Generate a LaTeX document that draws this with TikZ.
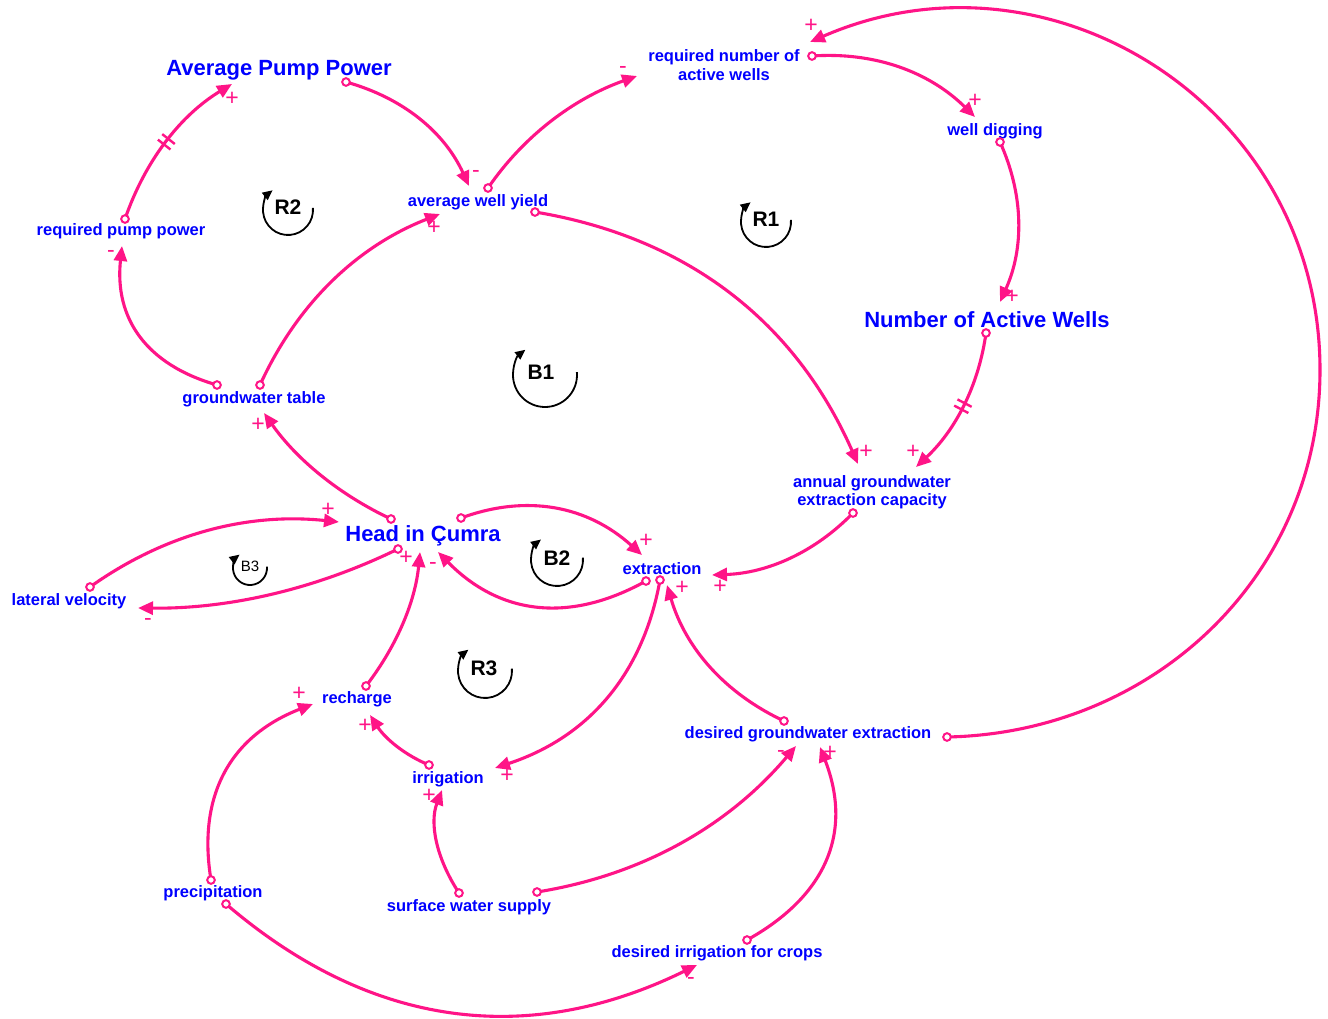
\documentclass[tikz,border=0pt]{standalone}
\usepackage{fontspec}
\setmainfont{Liberation Sans}
\usetikzlibrary{arrows.meta,calc,decorations.markings}
\definecolor{lk}{RGB}{255,20,135}
\definecolor{vb}{RGB}{0,0,255}
\newcommand{\cldlink}[4][]{%
  \draw[link,#1] (#2) .. controls ($1.3333*(#3)-0.3333*(#4)$) and ($1.3333*(#3)-0.3333*(#2)$) .. (#4);
  \draw[tailc] (#2) circle[radius=3.8];}
\newcommand{\cldloop}[6]{% name, label pos, center, radius, label, font
  \node[loopname,#6] (#1) at (#2) {#5};
  \draw[looparc] ($(#3)+(-5:#4)$) arc[start angle=-5,end angle=232,radius=#4];}
\begin{document}
\begin{tikzpicture}[x=1pt,y=-1pt,
  var/.style={text=vb,font=\fontsize{16.5}{18.5}\selectfont\bfseries,inner sep=0pt,text height=12pt,text depth=3.5pt},
  vartwo/.style={text=vb,font=\fontsize{16.5}{18.5}\selectfont\bfseries,inner sep=0pt,align=center},
  bigvar/.style={text=vb,font=\fontsize{22}{24}\selectfont\bfseries,inner sep=0pt,text height=16pt,text depth=4.6pt},
  link/.style={draw=lk,line width=3.1pt,-{Triangle[length=15pt,width=13pt]}},
  tailc/.style={draw=lk,fill=white,line width=2pt},
  pol/.style={text=lk,font=\fontsize{23}{23}\selectfont,inner sep=0pt},
  loopname/.style={font=\fontsize{21}{21}\selectfont\bfseries,inner sep=0pt},
  looparc/.style={draw=black,line width=1.8pt,-{Triangle[length=10pt,width=9pt]}},
  delaymark/.style={postaction={decorate,decoration={markings,mark=at position 0.5 with {\draw[-,draw=lk,line width=2.4pt] (-3.5,-8) -- (-3.5,8) (3.5,-8) -- (3.5,8);}}}}
]
\fill[white] (0,0) rectangle (1328,1019);
\useasboundingbox (0,0) rectangle (1328,1019);

% variables
\node[bigvar] (app) at (279,70) {Average Pump Power};
\node[vartwo] (rnaw) at (724,65) {required number of\\active wells};
\node[var] (wd) at (995,131) {well digging};
\node[var] (rpp) at (121,231) {required pump power};
\node[var] (awy) at (478,202) {average well yield};
\node[bigvar] (naw) at (987,322) {Number of Active Wells};
\node[var] (gwt) at (254,399) {groundwater table};
\node[vartwo] (agec) at (872,492) {annual groundwater\\extraction capacity};
\node[bigvar] (head) at (423,536) {Head in Çumra};
\node[var] (lv) at (69,601) {lateral velocity};
\node[var] (ext) at (662,570) {extraction};
\node[var] (rch) at (357,699) {recharge};
\node[var] (irr) at (448,779) {irrigation};
\node[var] (dge) at (808,734) {desired groundwater extraction};
\node[var] (prc) at (213,893) {precipitation};
\node[var] (sws) at (469,907) {surface water supply};
\node[var] (dic) at (717,953) {desired irrigation for crops};

% connector end points
\coordinate (t1) at (125,219);  \coordinate (h1) at (232,84);
\coordinate (t2) at (346,82);   \coordinate (h2) at (469,186);
\coordinate (t3) at (488,188);  \coordinate (h3) at (637,76);
\coordinate (t4) at (812,56);   \coordinate (h4) at (975,117);
\coordinate (t5) at (1000,142); \coordinate (h5) at (1000,302);
\coordinate (t6) at (986,333);  \coordinate (h6) at (916,467);
\coordinate (t7) at (535,212);  \coordinate (h7) at (858,464);
\coordinate (t8) at (217,385);  \coordinate (h8) at (122,246);
\coordinate (t9) at (260,385);  \coordinate (h9) at (440,214);
\coordinate (t10) at (391,519); \coordinate (h10) at (264,413);
\coordinate (t11) at (947,737); \coordinate (r11) at (1320,370); \coordinate (h11) at (810,42);
\coordinate (t12) at (90,587);  \coordinate (h12) at (339,522);
\coordinate (t13) at (398,549); \coordinate (h13) at (138,608);
\coordinate (t14) at (461,518); \coordinate (h14) at (642,555);
\coordinate (t15) at (646,581); \coordinate (h15) at (438,552);
\coordinate (t16) at (853,513); \coordinate (h16) at (712,575);
\coordinate (t17) at (660,580); \coordinate (h17) at (495,768);
\coordinate (t18) at (784,721); \coordinate (h18) at (667,585);
\coordinate (t19) at (366,686); \coordinate (h19) at (420,552);
\coordinate (t20) at (429,765); \coordinate (h20) at (370,715);
\coordinate (t21) at (211,880); \coordinate (h21) at (313,704);
\coordinate (t22) at (459,893); \coordinate (h22) at (442,790);
\coordinate (t23) at (537,892); \coordinate (h23) at (796,746);
\coordinate (t24) at (747,940); \coordinate (h24) at (820,747);
\coordinate (t25) at (226,904); \coordinate (h25) at (697,965);

% connectors
\cldlink[delaymark]{t1}{167,141}{h1}
\cldlink{t2}{420,120}{h2}
\cldlink{t3}{552,121}{h3}
\cldlink{t4}{900,68}{h4}
\cldlink{t5}{1018,222}{h5}
\cldlink[delaymark]{t6}{963,406}{h6}
\cldlink{t7}{730,294}{h7}
\cldlink{t8}{140,335}{h8}
\cldlink{t9}{333,281}{h9}
\cldlink{t10}{320,474}{h10}
\draw[link] (t11) .. controls (1153,733) and (1320,576) .. (r11) .. controls (1320,107) and (1051,-63) .. (h11);
\draw[tailc] (t11) circle[radius=3.8];
\cldlink{t12}{208,531}{h12}
\cldlink{t13}{271,594}{h13}
\cldlink{t14}{556,509}{h14}
\cldlink{t15}{536,606}{h15}
\cldlink{t16}{789,558}{h16}
\cldlink{t17}{606,698}{h17}
\cldlink{t18}{710,666}{h18}
\cldlink{t19}{403,622}{h19}
\cldlink{t20}{396,745}{h20}
\cldlink{t21}{226,772}{h21}
\cldlink{t22}{437,840}{h22}
\cldlink{t23}{680,843}{h23}
\cldlink{t24}{826,858}{h24}
\cldlink{t25}{452,1012}{h25}

% polarities
\node[pol] (p1) at (232,99) {+};
\node[pol] (p2) at (476,174) {-};
\node[pol] (p3) at (623,70) {-};
\node[pol] (p4) at (975,101) {+};
\node[pol] (p5) at (1012,297) {+};
\node[pol] (p6) at (913,452) {+};
\node[pol] (p7) at (866,452) {+};
\node[pol] (p8) at (111,254) {-};
\node[pol] (p9) at (434,228) {+};
\node[pol] (p10) at (258,425) {+};
\node[pol] (p11) at (811,26) {+};
\node[pol] (p12) at (328,510) {+};
\node[pol] (p13) at (148,622) {-};
\node[pol] (p14) at (646,541) {+};
\node[pol] (p15) at (433,566) {-};
\node[pol] (p16) at (720,587) {+};
\node[pol] (p17) at (507,776) {+};
\node[pol] (p18) at (682,588) {+};
\node[pol] (p19) at (406,558) {+};
\node[pol] (p20) at (365,726) {+};
\node[pol] (p21) at (299,694) {+};
\node[pol] (p22) at (429,796) {+};
\node[pol] (p23) at (781,754) {-};
\node[pol] (p24) at (830,753) {+};
\node[pol] (p25) at (691,981) {-};

% loop markers
\cldloop{lR2}{288,207}{288,210}{25}{R2}{}
\cldloop{lR1}{766,219}{766,222}{25}{R1}{}
\cldloop{lB1}{541,372}{545,375}{32}{B1}{}
\cldloop{lB2}{557,558}{557,560}{26}{B2}{}
\cldloop{lB3}{250,566}{250,568}{17}{B3}{font=\fontsize{15}{15}\selectfont}
\cldloop{lR3}{484,668}{485,671}{27}{R3}{}
\end{tikzpicture}
\end{document}
